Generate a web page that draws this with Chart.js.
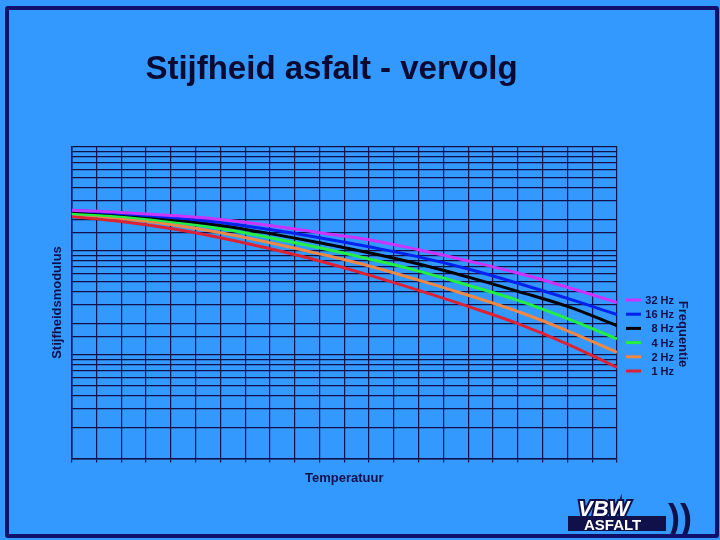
<!DOCTYPE html>
<html>
<head>
<meta charset="utf-8">
<script src="https://cdn.jsdelivr.net/npm/chart.js@4/dist/chart.umd.min.js"></script>
<style>
  html, body { margin: 0; padding: 0; background: #3399ff; }
  #wrap { position: relative; width: 720px; height: 540px; }
  #frame { position: absolute; left: 5px; top: 6px; width: 706px; height: 524px; border: 4px solid #10106a; border-radius: 3px; pointer-events: none; }
  canvas { position: absolute; left: 0; top: 0; }
</style>
</head>
<body>
<div id="wrap">
  <canvas id="c" width="720" height="540"></canvas>
  <div id="frame"></div>
</div>
<script>
// Temperature steps (no labels shown in the original)
const temps = [0, 2, 4, 6, 8, 10, 12, 14, 16, 18, 20, 22];

// Stiffness modulus per frequency (log scale)
const hz32 = [2438, 2328, 2178, 1991, 1742, 1486, 1271, 1016, 794, 607, 443, 316];
const hz16 = [2438, 2275, 2080, 1862, 1592, 1330, 1086, 869, 664, 484, 346, 242];
const hz8 = [2382, 2228, 1991, 1742, 1455, 1189, 951, 741, 555, 405, 290, 189];
const hz4 = [2275, 2128, 1901, 1626, 1330, 1062, 830, 634, 463, 331, 221, 141];
const hz2 = [2275, 2037, 1778, 1486, 1189, 929, 710, 519, 371, 259, 169, 105];
const hz1 = [2128, 1901, 1626, 1330, 1040, 794, 580, 414, 290, 198, 126, 75];

const seriesLabels = ["32 Hz", "16 Hz", "8 Hz", "4 Hz", "2 Hz", "1 Hz"];
const seriesColors = ["#cc33ff", "#0022ee", "#000000", "#22ee44", "#ee8844", "#dd2233"];
const seriesData = [hz32, hz16, hz8, hz4, hz2, hz1];

const NAVY = "#10104a";

// ── Legend, side label and logo drawn on the canvas ──────────
const decorations = {
  id: "decorations",
  afterDraw(chart) {
    const ctx = chart.ctx;
    ctx.save();
    // legend
    chart.data.datasets.forEach((ds, i) => {
      const y = 300 + i * 14.2;
      ctx.strokeStyle = ds.borderColor;
      ctx.lineWidth = 3;
      ctx.beginPath();
      ctx.moveTo(626, y);
      ctx.lineTo(641, y);
      ctx.stroke();
      ctx.fillStyle = NAVY;
      ctx.font = "bold 11px Arial, 'Liberation Sans'";
      ctx.textAlign = "right";
      ctx.textBaseline = "middle";
      ctx.fillText(ds.label, 674, y + 1);
    });
    // rotated legend title
    ctx.translate(683, 334);
    ctx.rotate(Math.PI / 2);
    ctx.textAlign = "center";
    ctx.font = "bold 13px Arial, 'Liberation Sans'";
    ctx.fillText("Frequentie", 0, 0);
    ctx.restore();

    // logo
    ctx.save();
    ctx.textAlign = "left";
    ctx.textBaseline = "alphabetic";
    ctx.font = "italic 900 22px Arial, 'Liberation Sans'";
    ctx.lineWidth = 4;
    ctx.strokeStyle = NAVY;
    ctx.fillStyle = "#ffffff";
    ctx.strokeText("VBW", 578, 516);
    ctx.fillText("VBW", 578, 516);
    ctx.fillStyle = NAVY;
    ctx.fillRect(568, 516, 98, 15);
    ctx.fillStyle = "#ffffff";
    ctx.font = "bold 15px Arial, 'Liberation Sans'";
    ctx.fillText("ASFALT", 584, 530);
    ctx.fillStyle = NAVY;
    ctx.font = "bold 36px Arial, 'Liberation Sans'";
    ctx.fillText("))", 668, 530);
    ctx.restore();
  }
};

new Chart(document.getElementById("c"), {
  type: "line",
  data: {
    labels: temps,
    datasets: seriesLabels.map((label, i) => ({
      label,
      data: temps.map((t, j) => ({ x: t, y: seriesData[i][j] })),
      borderColor: seriesColors[i],
      borderWidth: 3,
      pointRadius: 0,
      tension: 0.4,
      fill: false,
    })),
  },
  options: {
    responsive: false,
    animation: false,
    layout: { padding: { left: 46, top: 50, right: 103, bottom: 50 } },
    plugins: {
      legend: { display: false },
      tooltip: { enabled: false },
      title: {
        display: true,
        text: "Stijfheid asfalt - vervolg",
        color: "#0a0a30",
        font: { family: "Arial, 'Liberation Sans'", size: 33, weight: "bold" },
        padding: { top: 0, bottom: 57 },
      },
    },
    scales: {
      x: {
        type: "linear",
        min: 0,
        max: 22,
        ticks: { stepSize: 1, display: false },
        grid: { color: NAVY, lineWidth: 1.2, tickLength: 4 },
        border: { color: NAVY, width: 1.5 },
        title: {
          display: true,
          text: "Temperatuur",
          color: NAVY,
          font: { family: "Arial, 'Liberation Sans'", size: 13, weight: "bold" },
          padding: { top: 8 },
        },
      },
      y: {
        type: "logarithmic",
        min: 10,
        max: 10000,
        ticks: { display: false },
        grid: { color: NAVY, lineWidth: 1.2, tickLength: 0 },
        border: { color: NAVY, width: 1.5 },
        title: {
          display: true,
          text: "Stijfheidsmodulus",
          color: NAVY,
          font: { family: "Arial, 'Liberation Sans'", size: 13, weight: "bold" },
          padding: { bottom: 6 },
        },
      },
    },
  },
  plugins: [decorations],
});
</script>
</body>
</html>
